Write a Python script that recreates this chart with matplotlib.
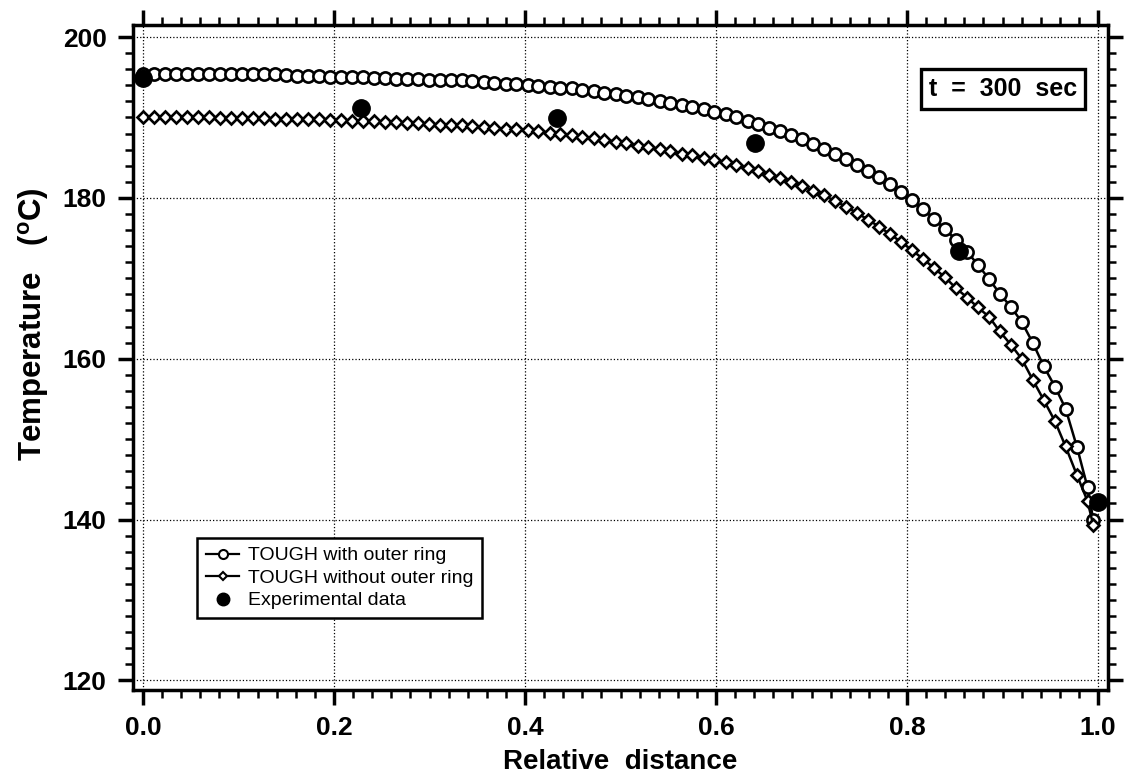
import numpy as np
import matplotlib
matplotlib.use("Agg")
import matplotlib.pyplot as plt
from matplotlib.lines import Line2D
from matplotlib.ticker import MultipleLocator

plt.rcParams['font.family'] = ['Liberation Sans', 'DejaVu Sans']
plt.rcParams['mathtext.fontset'] = 'custom'
plt.rcParams['mathtext.rm'] = 'Liberation Sans:bold'
plt.rcParams['mathtext.bf'] = 'Liberation Sans:bold'

# relative distance of the simulated points
x_sim = [0.000, 0.012, 0.023, 0.035, 0.046, 0.058, 0.069, 0.081, 0.092, 0.104,
         0.115, 0.127, 0.138, 0.150, 0.161, 0.173, 0.184, 0.196, 0.207, 0.219,
         0.230, 0.242, 0.253, 0.265, 0.276, 0.288, 0.299, 0.311, 0.322, 0.334,
         0.345, 0.357, 0.368, 0.380, 0.391, 0.403, 0.414, 0.426, 0.437, 0.449,
         0.460, 0.472, 0.483, 0.495, 0.506, 0.518, 0.529, 0.541, 0.552, 0.564,
         0.575, 0.587, 0.598, 0.610, 0.621, 0.633, 0.644, 0.656, 0.667, 0.679,
         0.690, 0.702, 0.713, 0.725, 0.736, 0.748, 0.759, 0.771, 0.782, 0.794,
         0.805, 0.817, 0.828, 0.840, 0.851, 0.863, 0.874, 0.886, 0.897, 0.909,
         0.920, 0.932, 0.943, 0.955, 0.966, 0.978, 0.989, 0.995]

# TOUGH with outer ring
t_with = [195.4, 195.4, 195.4, 195.4, 195.4, 195.4, 195.4, 195.4, 195.4, 195.4,
          195.4, 195.4, 195.4, 195.3, 195.1, 195.1, 195.1, 195.0, 195.0, 195.0,
          195.0, 194.9, 194.9, 194.8, 194.8, 194.8, 194.7, 194.7, 194.6, 194.6,
          194.5, 194.4, 194.3, 194.2, 194.1, 194.0, 193.9, 193.8, 193.7, 193.6,
          193.4, 193.3, 193.1, 192.9, 192.7, 192.5, 192.3, 192.1, 191.8, 191.6,
          191.3, 191.0, 190.7, 190.4, 190.0, 189.6, 189.2, 188.7, 188.3, 187.8,
          187.3, 186.7, 186.1, 185.5, 184.8, 184.1, 183.4, 182.6, 181.7, 180.7,
          179.7, 178.6, 177.4, 176.1, 174.8, 173.3, 171.7, 169.9, 168.1, 166.4,
          164.6, 161.9, 159.1, 156.5, 153.8, 149.0, 144.0, 140.0]

# TOUGH without outer ring
t_without = [190.1, 190.1, 190.1, 190.1, 190.1, 190.1, 190.0, 189.9, 189.9, 189.9,
             189.9, 189.9, 189.8, 189.8, 189.8, 189.8, 189.8, 189.7, 189.7, 189.6,
             189.6, 189.5, 189.4, 189.4, 189.3, 189.3, 189.2, 189.1, 189.1, 189.0,
             188.9, 188.8, 188.7, 188.6, 188.5, 188.4, 188.3, 188.1, 188.0, 187.8,
             187.6, 187.4, 187.2, 187.0, 186.8, 186.5, 186.3, 186.1, 185.8, 185.5,
             185.3, 185.0, 184.7, 184.4, 184.1, 183.7, 183.3, 182.9, 182.5, 182.0,
             181.5, 180.9, 180.3, 179.6, 178.9, 178.1, 177.3, 176.4, 175.5, 174.5,
             173.5, 172.4, 171.3, 170.1, 168.8, 167.6, 166.4, 165.2, 163.4, 161.7,
             160.0, 157.3, 154.9, 152.2, 149.1, 145.5, 142.3, 139.3]

# experimental data
x_exp = [0.000, 0.228, 0.433, 0.641, 0.854, 1.000]
t_exp = [194.9, 191.2, 189.9, 186.8, 173.4, 142.2]

fig = plt.figure(figsize=(11.24, 7.80), dpi=100)
ax = fig.add_axes([0.1183, 0.1154, 0.8675, 0.8526])

ax.plot(x_sim, t_with, color="black", lw=1.8, marker="o", ms=8.8,
        mfc="white", mec="black", mew=1.9, zorder=3)
ax.plot(x_sim, t_without, color="black", lw=1.8, marker="D", ms=5.8,
        mfc="white", mec="black", mew=1.9, zorder=3)
ax.plot(x_exp, t_exp, ls="none", marker="o", ms=12.5, color="black", zorder=4)

ax.set_xlim(-0.0105, 1.0105)
ax.set_ylim(118.8, 201.5)
ax.xaxis.set_major_locator(MultipleLocator(0.2))
ax.xaxis.set_minor_locator(MultipleLocator(0.02))
ax.yaxis.set_major_locator(MultipleLocator(20))
ax.yaxis.set_minor_locator(MultipleLocator(2))
ax.xaxis.set_major_formatter(plt.FuncFormatter(lambda v, p: "%.1f" % v))
ax.grid(True, which="major", color="black", ls=":", lw=0.9)

for s in ax.spines.values():
    s.set_linewidth(2.5)
ax.tick_params(which="both", direction="out", top=True, right=True,
               labelsize=19, pad=8)
ax.tick_params(which="major", length=11, width=2.5)
ax.tick_params(which="minor", length=6, width=1.8)
for lab in ax.get_xticklabels() + ax.get_yticklabels():
    lab.set_fontweight("bold")

ax.set_xlabel("Relative  distance", fontsize=20, fontweight="bold", labelpad=6)
ax.set_ylabel(r"Temperature   ($^{\mathrm{o}}$C)", fontsize=22.5,
              fontweight="bold")
ax.yaxis.set_label_coords(-0.084, 0.55)

handles = [
    Line2D([], [], color="black", lw=1.6, marker="o", ms=6.5, mfc="white", mew=1.5),
    Line2D([], [], color="black", lw=1.6, marker="D", ms=4.5, mfc="white", mew=1.5),
    Line2D([], [], ls="none", color="black", marker="o", ms=9),
]
leg = ax.legend(handles, ["TOUGH with outer ring", "TOUGH without outer ring",
                          "Experimental data"],
                loc="lower left", bbox_to_anchor=(0.066, 0.108),
                borderaxespad=0, fontsize=14, frameon=True, fancybox=False,
                handlelength=1.7, handletextpad=0.45, labelspacing=0.25,
                borderpad=0.45)
leg.get_frame().set_edgecolor("black")
leg.get_frame().set_linewidth(1.8)
leg.get_frame().set_alpha(1)

ax.text(0.968, 0.904, "t  =  300  sec", transform=ax.transAxes, ha="right",
        va="center", fontsize=18, fontweight="bold",
        bbox=dict(boxstyle="square,pad=0.32", fc="white", ec="black", lw=2.4))

fig.savefig("out.png", dpi=100)
